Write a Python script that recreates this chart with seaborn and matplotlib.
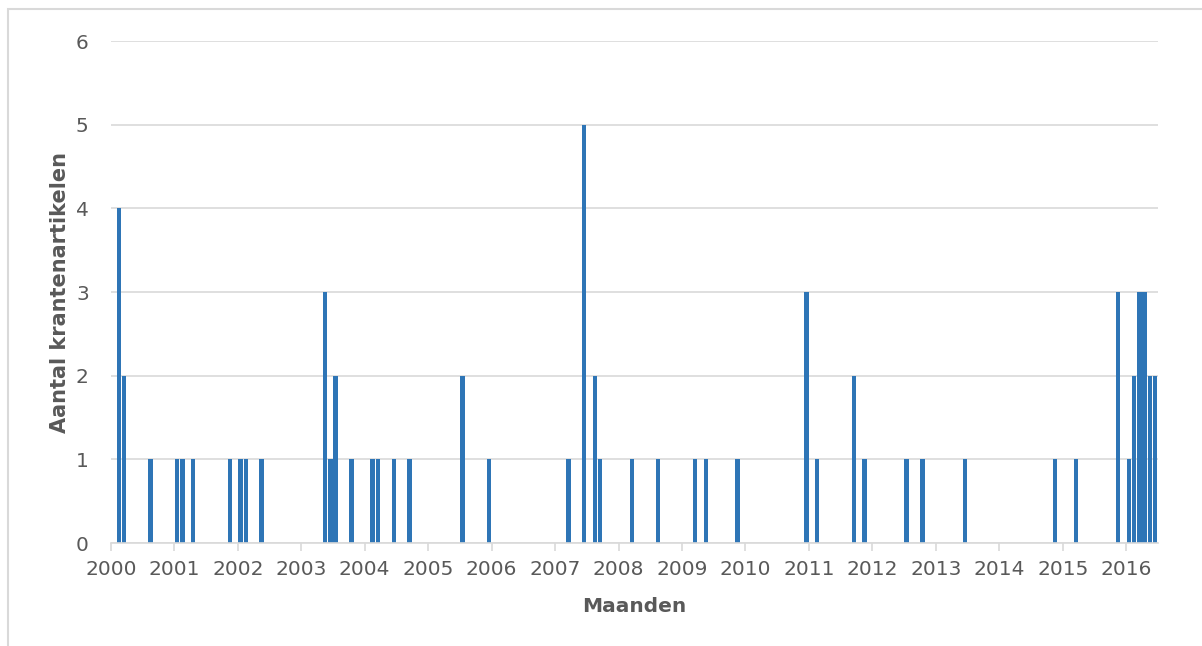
import pandas as pd
import matplotlib.pyplot as plt
import seaborn as sns
from matplotlib.patches import Rectangle

# Months with at least one article (all other months are 0)
months = [
    "2000-02", "2000-03", "2000-08",
    "2001-01", "2001-02", "2001-04", "2001-11",
    "2002-01", "2002-02", "2002-05",
    "2003-05", "2003-06", "2003-07", "2003-10",
    "2004-02", "2004-03", "2004-06", "2004-09",
    "2005-07", "2005-12",
    "2007-03", "2007-06", "2007-08", "2007-09",
    "2008-03", "2008-08",
    "2009-03", "2009-05", "2009-11",
    "2010-12",
    "2011-02", "2011-09", "2011-11",
    "2012-07", "2012-10",
    "2013-06",
    "2014-11",
    "2015-03", "2015-11",
    "2016-01", "2016-02", "2016-03", "2016-04", "2016-05", "2016-06",
]
counts = [
    4, 2, 1,
    1, 1, 1, 1,
    1, 1, 1,
    3, 1, 2, 1,
    1, 1, 1, 1,
    2, 1,
    1, 5, 2, 1,
    1, 1,
    1, 1, 1,
    3,
    1, 2, 1,
    1, 1,
    1,
    1,
    1, 3,
    1, 2, 3, 3, 2, 2,
]
year_labels = [str(y) for y in range(2000, 2017)]
y_ticks = [0, 1, 2, 3, 4, 5, 6]

# Full monthly range, empty months filled with 0
all_months = pd.period_range("2000-01", "2016-06", freq="M")
s = pd.Series(counts, index=pd.PeriodIndex(months, freq="M")).reindex(all_months, fill_value=0)
df = s.rename_axis("maand").reset_index(name="aantal")
df["maand"] = df["maand"].astype(str)

sns.set_theme(style="white")
plt.rcParams["font.family"] = ["DejaVu Sans"]

grey_text = "#595959"
grid_col = "#d9d9d9"

fig = plt.figure(figsize=(12.02, 6.46), dpi=100)
ax = fig.add_axes([0.0923, 0.1594, 0.871, 0.7771])

sns.barplot(data=df, x="maand", y="aantal", color="#2e75b6", saturation=1,
            width=0.85, linewidth=0, ax=ax)

# Axes styling (Excel look)
ax.set_xlim(-0.5, len(df) - 0.5)
ax.set_xticks([12 * i - 0.5 for i in range(len(year_labels))])
ax.set_xticklabels(year_labels)
ax.set_ylim(0, 6)
ax.set_yticks(y_ticks)
ax.yaxis.grid(True, color=grid_col, linewidth=1.2)
ax.set_axisbelow(True)
for side in ["left", "top", "right"]:
    ax.spines[side].set_visible(False)
ax.spines["bottom"].set_color(grid_col)
ax.spines["bottom"].set_linewidth(1.2)

ax.tick_params(axis="x", direction="out", length=6, width=1.2, color=grid_col,
               labelcolor=grey_text, labelsize=14.5, pad=6, bottom=True)
ax.tick_params(axis="y", length=0, labelcolor=grey_text, labelsize=14.5, pad=16)

ax.set_xlabel("Maanden", fontsize=14.5, fontweight="bold", color=grey_text, labelpad=13)
ax.set_ylabel("Aantal krantenartikelen", fontsize=15, fontweight="bold",
              color=grey_text, labelpad=4)

# Outer chart border (partly cut off at the right and bottom)
fig.patches.append(Rectangle((8 / 1202, -0.05), 1.1, 1 - 9 / 646 + 0.05,
                             transform=fig.transFigure, fill=False,
                             edgecolor=grid_col, linewidth=1.5))

fig.savefig("out.png", dpi=100)
